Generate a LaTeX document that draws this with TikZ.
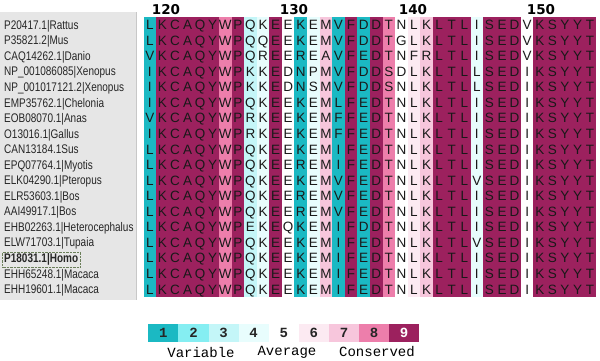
\documentclass[tikz,border=0pt]{standalone}
\usepackage{fontspec}
\setmainfont{Liberation Sans}
\newfontfamily\labfont[FakeStretch=0.8]{Liberation Sans}
\newfontfamily\numfont{DejaVu Sans}
\newfontfamily\keyfont{Liberation Mono}
\usetikzlibrary{positioning, fit}
\definecolor{grade1}{HTML}{1BB9C3}
\definecolor{grade2}{HTML}{85EEF2}
\definecolor{grade3}{HTML}{C4F6F8}
\definecolor{grade4}{HTML}{E8FDFD}
\definecolor{grade5}{HTML}{FFFFFF}
\definecolor{grade6}{HTML}{FCEAF2}
\definecolor{grade7}{HTML}{F7C6DC}
\definecolor{grade8}{HTML}{ED7EAB}
\definecolor{grade9}{HTML}{9C215E}
\definecolor{panelGray}{HTML}{E6E6E6}
\definecolor{panelLine}{HTML}{C8C8C8}
\definecolor{selBorder}{HTML}{6B7F5A}

% one alignment row: row number, sequence name, residues
\makeatletter
\newcommand\alnrow[3]{%
  \node[seqlabel] (lab#1) at (4,{17+(#1-0.5)*15.55+4.5}) {#2};%
  \def\alncol{0}%
  \@tfor\alnres:=#3\do{%
    \pgfmathtruncatemacro\alncol{\alncol+1}%
    \node[residue] (res#1-\alncol) at ({143.5+(\alncol-0.5)*12.58},{17+(#1-0.5)*15.55+4.9}) {\alnres};%
  }%
}
\makeatother

\begin{document}
\begin{tikzpicture}[
    x=1pt, y=-1pt,
    every node/.style={inner sep=0pt},
    seqlabel/.style={
        anchor=base west,
        font=\labfont\fontsize{12.5}{15}\selectfont,
        text=black!85,
    },
    residue/.style={
        anchor=base,
        font=\fontsize{13.5}{15}\selectfont,
        text=black!90,
    },
    posnum/.style={
        font=\numfont\bfseries\fontsize{13.5}{15}\selectfont,
    },
    keybox/.style={
        minimum width=30.1pt,
        minimum height=18pt,
        font=\keyfont\bfseries\fontsize{14}{16}\selectfont,
    },
    keytext/.style={
        font=\keyfont\fontsize{14}{16}\selectfont,
        text=black,
    },
    selbox/.style={
        draw=selBorder,
        densely dotted,
        inner sep=1.5pt,
    },
]
\useasboundingbox (0,0) rectangle (600,360);

% name panel
\fill[panelGray] (0,12) rectangle (136,300);
\draw[panelLine] (136.5,12) -- (136.5,300);

% conservation colour of each column
\foreach [count=\c] \g in {1,9,9,9,9,9,8,9,3,4,9,5,1,4,7,1,9,1,9,8,5,6,7,9,9,9,4,9,9,9,5,9,9,9,9,9}
    \fill[grade\g] ({143.5+(\c-1)*12.58},17) rectangle ({143.5+\c*12.58},297);

% position numbers
\node[posnum] (pos120) at (166,9.5) {120};
\node[posnum] (pos130) at (294,9.5) {130};
\node[posnum] (pos140) at (413,9.5) {140};
\node[posnum] (pos150) at (541,9.5) {150};

\alnrow{1}{P20417.1|Rattus}{LKCAQYWPQKEEKEMVFDDTNLKLTLISEDVKSYYT}
\alnrow{2}{P35821.2|Mus}{LKCAQYWPQQEEKEMVFDDTGLKLTLISEDVKSYYT}
\alnrow{3}{CAQ14262.1|Danio}{VKCAQYWPQREEREAVFEDTNFRLTLISEDVKSYYT}
\alnrow{4}{NP\_001086085|Xenopus}{IKCAQYWPKKEDNPMVFDDSDLKLTLLSEDIKSYYT}
\alnrow{5}{NP\_001017121.2|Xenopus}{IKCAQYWPKKEDNSMVFDDSNLKLTLLSEDIKSYYT}
\alnrow{6}{EMP35762.1|Chelonia}{IKCAQYWPQKEEKEMLFEDTNLKLTLISEDIKSYYT}
\alnrow{7}{EOB08070.1|Anas}{VKCAQYWPRKEEKEMFFEDTNLKLTLISEDIKSYYT}
\alnrow{8}{O13016.1|Gallus}{IKCAQYWPRKEEKEMFFEDTNLKLTLISEDIKSYYT}
\alnrow{9}{CAN13184.1Sus}{LKCAQYWPQKEEKEMIFEDTNLKLTLISEDIKSYYT}
\alnrow{10}{EPQ07764.1|Myotis}{LKCAQYWPQKEEREMIFEDTNLKLTLISEDIKSYYT}
\alnrow{11}{ELK04290.1|Pteropus}{LKCAQYWPQKEEKEMVFEDTNLKLTLVSEDIKSYYT}
\alnrow{12}{ELR53603.1|Bos}{LKCAQYWPQKEEREMVFEDTNLKLTLISEDIKSYYT}
\alnrow{13}{AAI49917.1|Bos}{LKCAQYWPQKEEREMVFEDTNLKLTLISEDIKSYYT}
\alnrow{14}{EHB02263.1|Heterocephalus}{LKCAQYWPEKEQKEMIFDDTNLKLTLISEDIKSYYT}
\alnrow{15}{ELW71703.1|Tupaia}{LKCAQYWPQKEEKEMIFEDTNLKLTLVSEDIKSYYT}
\alnrow{16}{\textbf{P18031.1|Homo}}{LKCAQYWPQKEEKEMIFEDTNLKLTLISEDIKSYYT}
\alnrow{17}{EHH65248.1|Macaca}{LKCAQYWPQKEEKEMIFEDTNLKLTLISEDIKSYYT}
\alnrow{18}{EHH19601.1|Macaca}{LKCAQYWPQKEEKEMIFEDTNLKLTLISEDIKSYYT}

\node[selbox, fit=(lab16)] (homosel) {};

% colour key
\foreach \g/\tc in {1/black!85,2/black!85,3/black!85,4/black!85,5/black!85,6/black!85,7/black!85,8/black!85,9/white}
    \node[keybox, fill=grade\g, text=\tc] (key\g) at ({148.3+(\g-0.5)*30.1},333.3) {\g};

\node[keytext] (variable) at (201,352) {Variable};
\node[keytext] (average) at (287,352) {Average};
\node[keytext] (conserved) at (377,352) {Conserved};

\end{tikzpicture}
\end{document}
